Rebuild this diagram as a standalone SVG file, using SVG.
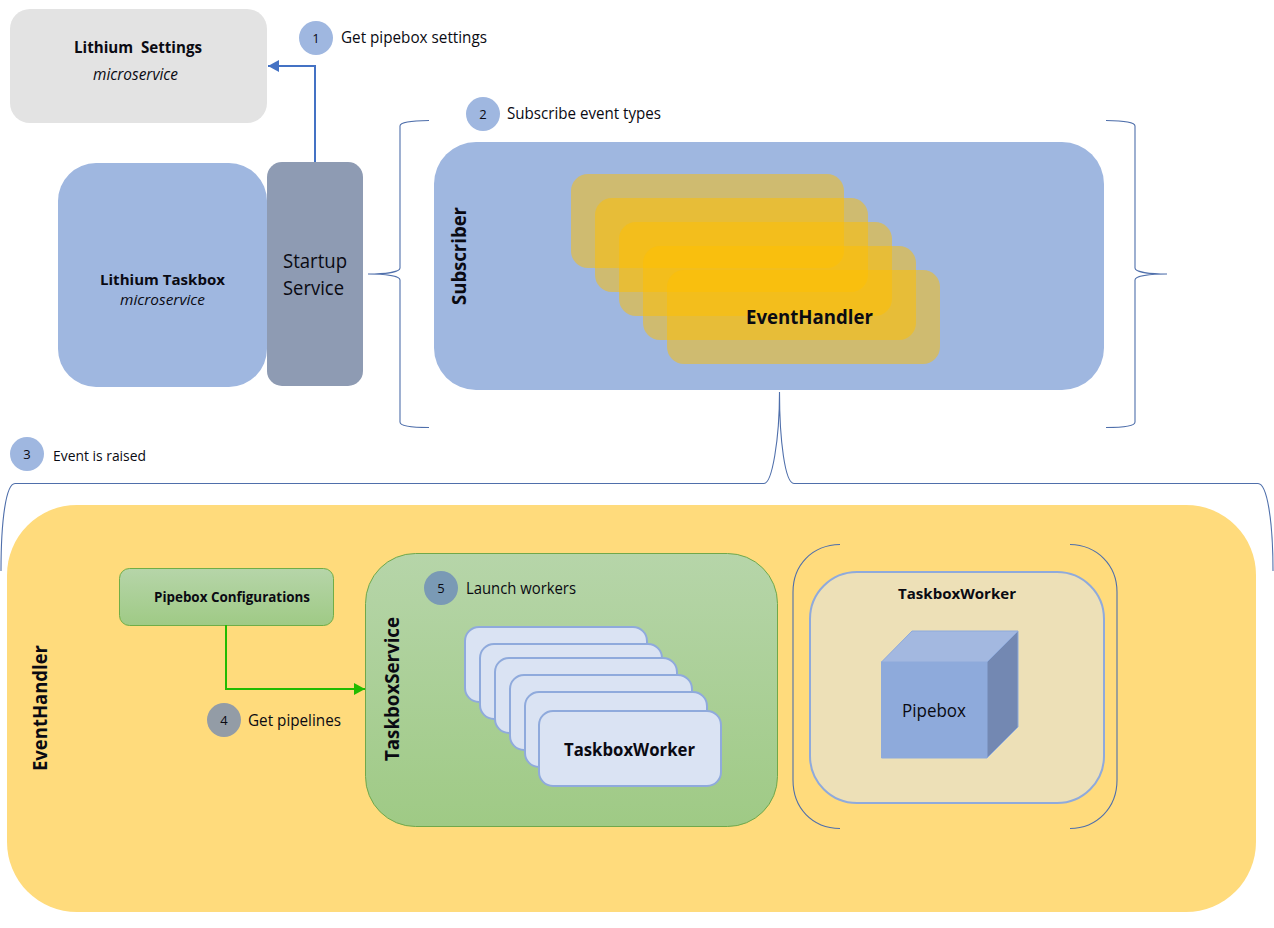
<svg xmlns="http://www.w3.org/2000/svg" width="1274" height="928" viewBox="0 0 1274 928">
<style>
text{font-family:"Open Sans","Noto Sans","Liberation Sans",sans-serif;fill:#0a0a12;white-space:pre}
.b{font-weight:700}
.i{font-style:italic}
.brace{fill:none;stroke:#4f6fab;stroke-width:1.1}
.eh{fill:#ffc000;fill-opacity:.5}
.w{fill:#dae3f3;stroke:#8faadc;stroke-width:2}
.n{text-anchor:middle;font-size:13px}
</style>
<defs>
<linearGradient id="gr" x1="0" y1="0" x2="0" y2="1"><stop offset="0" stop-color="#b6d5a9"/><stop offset="1" stop-color="#9fca85"/></linearGradient>
<marker id="ab" markerUnits="userSpaceOnUse" markerWidth="12" markerHeight="12" refX="11" refY="6" orient="auto"><path d="M0 0L11 6L0 12Z" fill="#4472c4"/></marker>
<marker id="ag" markerUnits="userSpaceOnUse" markerWidth="12" markerHeight="12" refX="11" refY="6" orient="auto"><path d="M0 0L11 6L0 12Z" fill="#22bb00"/></marker>
</defs>
<rect width="1274" height="928" fill="#fff"/>

<g id="settings"><rect x="10" y="9" width="257" height="114" rx="20" fill="#e3e3e3"/>
<text class="b" x="74" y="53" font-size="16" textLength="128" lengthAdjust="spacingAndGlyphs">Lithium  Settings</text>
<text class="i" x="93" y="80" font-size="16" textLength="85" lengthAdjust="spacingAndGlyphs">microservice</text></g>

<g id="taskbox"><rect x="58" y="163" width="209" height="224" rx="38" fill="#9fb7e0"/>
<text class="b" x="100" y="285" font-size="15" textLength="125" lengthAdjust="spacingAndGlyphs">Lithium Taskbox</text>
<text class="i" x="120" y="305" font-size="15" textLength="85" lengthAdjust="spacingAndGlyphs">microservice</text></g>

<g id="startup"><rect x="267" y="162" width="96" height="224" rx="15" fill="#8e9bb3"/>
<text x="283" y="268" font-size="20" textLength="64" lengthAdjust="spacingAndGlyphs">Startup</text>
<text x="283" y="295" font-size="20" textLength="61" lengthAdjust="spacingAndGlyphs">Service</text></g>

<g id="subscriber"><rect x="434" y="142" width="670" height="248" rx="42" fill="#9fb7e0"/>
<text class="b" transform="translate(466 305) rotate(-90)" font-size="20" textLength="98" lengthAdjust="spacingAndGlyphs">Subscriber</text></g>

<g id="eventhandlers">
<rect class="eh" x="571" y="174" width="273" height="94" rx="17"/>
<rect class="eh" x="595" y="198" width="273" height="94" rx="17"/>
<rect class="eh" x="619" y="222" width="273" height="94" rx="17"/>
<rect class="eh" x="643" y="246" width="273" height="94" rx="17"/>
<rect class="eh" x="667" y="270" width="273" height="94" rx="17"/>
<text class="b" x="746" y="324" font-size="20" textLength="127" lengthAdjust="spacingAndGlyphs">EventHandler</text></g>

<g id="eventhandler"><rect x="7" y="505" width="1249" height="407" rx="70" fill="#ffdb7c"/>
<text class="b" transform="translate(47 771) rotate(-90)" font-size="20" textLength="126" lengthAdjust="spacingAndGlyphs">EventHandler</text></g>

<g id="pipebox-configurations"><rect x="119.500" y="568.500" width="214" height="57" rx="10" fill="url(#gr)" stroke="#70ad47"/>
<text class="b" x="154" y="602" font-size="14" textLength="156" lengthAdjust="spacingAndGlyphs">Pipebox Configurations</text></g>

<g id="taskboxservice"><rect x="365.500" y="553.500" width="412" height="273" rx="50" fill="url(#gr)" stroke="#70a84a"/>
<text class="b" transform="translate(399 761) rotate(-90)" font-size="19" textLength="144" lengthAdjust="spacingAndGlyphs">TaskboxService</text></g>

<g id="workers">
<rect class="w" x="465" y="627" width="182" height="75" rx="14"/>
<rect class="w" x="480" y="644" width="182" height="75" rx="14"/>
<rect class="w" x="495" y="658" width="182" height="75" rx="14"/>
<rect class="w" x="510" y="675" width="182" height="75" rx="14"/>
<rect class="w" x="525" y="692" width="182" height="75" rx="14"/>
<rect class="w" x="539" y="711" width="182" height="75" rx="14"/>
<text class="b" x="564" y="756" font-size="18" textLength="131" lengthAdjust="spacingAndGlyphs">TaskboxWorker</text></g>

<g id="taskboxworker"><rect x="810" y="572" width="294" height="231" rx="47" fill="#ede0b7" stroke="#8faadc" stroke-width="2"/>
<text class="b" x="898" y="599" font-size="15" textLength="118" lengthAdjust="spacingAndGlyphs">TaskboxWorker</text></g>

<g id="pipebox" stroke="#8eaadb" stroke-width="1">
<path d="M881.500 662H987V758H881.500Z" fill="#8eaadb"/>
<path d="M881.500 662L912 631H1018L987 662Z" fill="#a3b8e0"/>
<path d="M987 662L1018 631V727L987 758Z" fill="#7388b2"/>
<text x="902" y="717" font-size="19" stroke="none" textLength="64" lengthAdjust="spacingAndGlyphs">Pipebox</text></g>

<g id="connectors">
<path d="M315 162V66H268" fill="none" stroke="#4472c4" stroke-width="2" marker-end="url(#ab)"/>
<path d="M226 625V689H365" fill="none" stroke="#22bb00" stroke-width="2" marker-end="url(#ag)"/>
<path class="brace" d="M429 120.500C410 121 400 122 400 126V268C400 272 385 274 368 274C385 274 400 276 400 280V422C400 426 410 427.500 429 427.500"/>
<path class="brace" d="M1106 120.500C1125 121 1135 122 1135 126V268C1135 272 1150 274 1167 274C1150 274 1135 276 1135 280V422C1135 426 1125 427.500 1106 427.500"/>
<path class="brace" d="M1 571C1 520 6 483.500 15 483.500H764C772 483.500 779.500 440 779.500 392C779.500 440 785 483.500 794 483.500H1258C1267 483.500 1273 520 1273 571"/>
<path class="brace" d="M840 544.500C812 545 793 565 793 592V780C793 808 812 828 840 828.500"/>
<path class="brace" d="M1070 544.500C1097 545 1117 565 1117 592V780C1117 808 1097 828 1070 828.500"/>
</g>

<g id="step1"><circle cx="316" cy="38" r="17" fill="#9fb7e0"/><text class="n" x="316" y="43">1</text>
<text x="341" y="43" font-size="16" textLength="146" lengthAdjust="spacingAndGlyphs">Get pipebox settings</text></g>
<g id="step2"><circle cx="483" cy="114" r="17" fill="#9fb7e0"/><text class="n" x="483" y="119">2</text>
<text x="507" y="119" font-size="16" textLength="154" lengthAdjust="spacingAndGlyphs">Subscribe event types</text></g>
<g id="step3"><circle cx="27" cy="454" r="17" fill="#9fb7e0"/><text class="n" x="27" y="459">3</text>
<text x="53" y="461" font-size="14" textLength="93" lengthAdjust="spacingAndGlyphs">Event is raised</text></g>
<g id="step4"><circle cx="224" cy="720" r="17" fill="#939ca6"/><text class="n" x="224" y="725">4</text>
<text x="248" y="726" font-size="16" textLength="93" lengthAdjust="spacingAndGlyphs">Get pipelines</text></g>
<g id="step5"><circle cx="441" cy="588" r="17" fill="#7a9ab5"/><text class="n" x="441" y="593">5</text>
<text x="466" y="594" font-size="16" textLength="110" lengthAdjust="spacingAndGlyphs">Launch workers</text></g>
</svg>
